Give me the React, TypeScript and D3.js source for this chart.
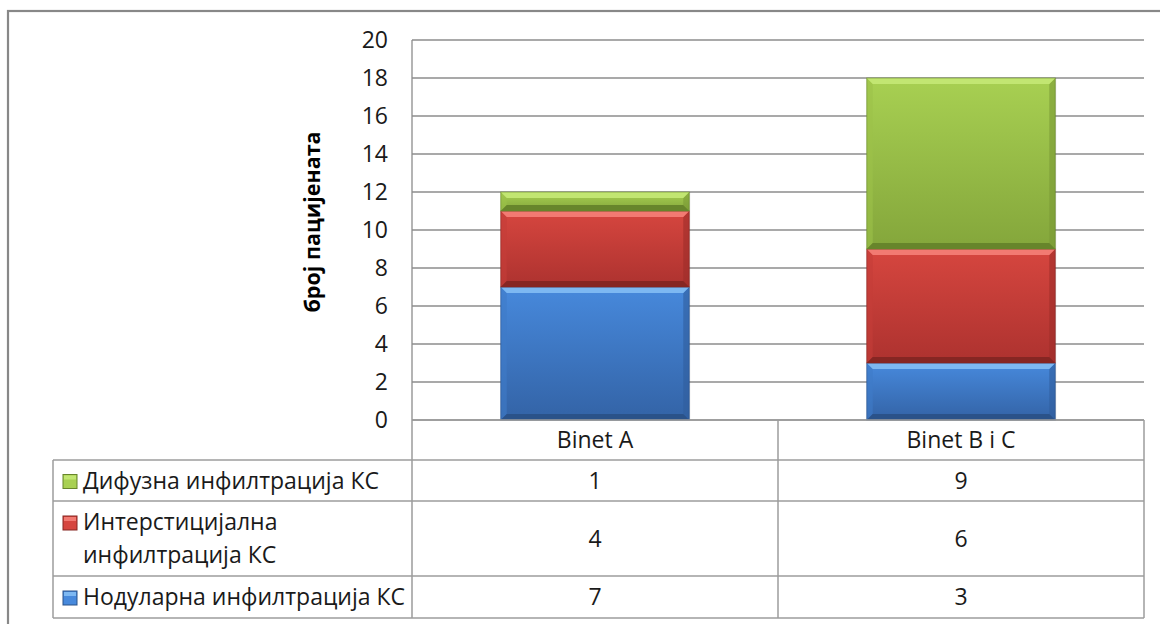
import React from "react";
import * as d3 from "d3";

const categories = ["Binet A", "Binet B i C"];
const seriesKeys = ["nodular", "interstitial", "diffuse"];
const nodularValues = [7, 3];
const interstitialValues = [4, 6];
const diffuseValues = [1, 9];
const labelNodular = ["Нодуларна инфилтрација КС"];
const labelInterstitial = ["Интерстицијална", "инфилтрација КС"];
const labelDiffuse = ["Дифузна инфилтрација КС"];
const yTicks = [0, 2, 4, 6, 8, 10, 12, 14, 16, 18, 20];
const yTitle = "број пацијената";

const W = 1160;
const H = 624;
const FONT = "'Open Sans', 'Noto Sans', sans-serif";
const FS = 23;

type Pal = { top: string; bodyA: string; bodyB: string; bottom: string; left: string; right: string };
const palettes: Record<string, Pal> = {
  nodular: { top: "#7db8f2", bodyA: "#4789dc", bodyB: "#3363a6", bottom: "#2a5289", left: "#3f7bc8", right: "#305d9c" },
  interstitial: { top: "#f27a72", bodyA: "#d6463f", bodyB: "#ad322f", bottom: "#862623", left: "#c53e39", right: "#9c2d2a" },
  diffuse: { top: "#c2e672", bodyA: "#a8d052", bodyB: "#84a63b", bottom: "#67852b", left: "#9cc24a", right: "#7a9a36" },
};

const rows = [
  { key: "diffuse", label: labelDiffuse, values: diffuseValues, y0: 460, y1: 501 },
  { key: "interstitial", label: labelInterstitial, values: interstitialValues, y0: 501, y1: 576 },
  { key: "nodular", label: labelNodular, values: nodularValues, y0: 576, y1: 618 },
];

function BevelBar({ x, y, w, h, pal, id }: { x: number; y: number; w: number; h: number; pal: Pal; id: string }) {
  const b = Math.min(6, h / 3);
  const pts = (arr: number[][]) => arr.map((p) => p.join(",")).join(" ");
  return (
    <g>
      <defs>
        <linearGradient id={id} x1="0" y1="0" x2="0" y2="1">
          <stop offset="0" stopColor={pal.bodyA} />
          <stop offset="1" stopColor={pal.bodyB} />
        </linearGradient>
      </defs>
      <rect x={x + 1} y={y} width={w} height={h} fill="#000" opacity={0.12} />
      <rect x={x} y={y} width={w} height={h} fill={`url(#${id})`} />
      <polygon points={pts([[x, y], [x + b, y + b], [x + b, y + h - b], [x, y + h]])} fill={pal.left} opacity={0.6} />
      <polygon points={pts([[x + w, y], [x + w - b, y + b], [x + w - b, y + h - b], [x + w, y + h]])} fill={pal.right} opacity={0.6} />
      <polygon points={pts([[x, y], [x + w, y], [x + w - b, y + b], [x + b, y + b]])} fill={pal.top} />
      <polygon points={pts([[x, y + h], [x + w, y + h], [x + w - b, y + h - b], [x + b, y + h - b]])} fill={pal.bottom} />
      <rect x={x} y={y} width={w} height={h} fill="none" stroke={pal.bottom} strokeOpacity={0.6} strokeWidth={1} />
    </g>
  );
}

export default function App() {
  const plotLeft = 412;
  const plotRight = 1144;
  const plotTop = 40;
  const plotBottom = 420;
  const tableLeft = 53;

  const x = d3.scaleBand<string>().domain(categories).range([plotLeft, plotRight]).padding(0);
  const y = d3.scaleLinear().domain([0, 20]).range([plotBottom, plotTop]);
  const barW = x.bandwidth() * 0.515;

  const table = categories.map((c, i) => ({
    cat: c,
    nodular: nodularValues[i],
    interstitial: interstitialValues[i],
    diffuse: diffuseValues[i],
  }));
  const stacked = d3.stack<any>().keys(seriesKeys)(table);

  const gridColor = "#8c8c8c";
  const tableColor = "#9d9d9d";

  return (
    <div style={{ position: "absolute", left: 0, top: 0 }}>
      <svg width={W} height={H} style={{ display: "block", background: "#fff" }}>
        <rect x={8} y={11} width={1170} height={640} fill="#fff" stroke="#888" strokeWidth={2.2} />

        {yTicks.map((t) => (
          <line key={"g" + t} x1={plotLeft} x2={plotRight} y1={y(t)} y2={y(t)} stroke={gridColor} strokeWidth={1.3} />
        ))}
        {yTicks.map((t) => (
          <text key={"t" + t} x={388} y={y(t)} dy="0.36em" textAnchor="end" fontFamily={FONT} fontSize={FS} fill="#1a1a1a">
            {t}
          </text>
        ))}
        <text
          transform={`translate(${312},${(plotTop + plotBottom) / 2 - 8}) rotate(-90)`}
          textAnchor="middle"
          dy="0.35em"
          fontFamily={FONT}
          fontWeight="bold"
          fontSize={21.5}
          fill="#000"
        >
          {yTitle}
        </text>

        {stacked.map((s) =>
          s.map((d, i) => {
            const cat = categories[i];
            const bx = (x(cat) as number) + (x.bandwidth() - barW) / 2;
            const y0 = y(d[1]);
            const y1 = y(d[0]);
            return (
              <BevelBar key={s.key + i} id={`grad-${s.key}-${i}`} x={bx} y={y0} w={barW} h={y1 - y0} pal={palettes[s.key]} />
            );
          })
        )}

        <line x1={plotLeft} x2={plotLeft} y1={plotTop} y2={618} stroke={gridColor} strokeWidth={1.3} />

        <line x1={plotLeft} x2={plotRight} y1={plotBottom} y2={plotBottom} stroke={tableColor} strokeWidth={1.5} />
        <line x1={plotRight} x2={plotRight} y1={plotBottom} y2={618} stroke={tableColor} strokeWidth={1.5} />
        <line x1={x(categories[1]) as number} x2={x(categories[1]) as number} y1={plotBottom} y2={618} stroke={tableColor} strokeWidth={1.5} />
        <line x1={tableLeft} x2={tableLeft} y1={460} y2={618} stroke={tableColor} strokeWidth={1.5} />
        {rows.map((r) => (
          <line key={"rl" + r.key} x1={tableLeft} x2={plotRight} y1={r.y0} y2={r.y0} stroke={tableColor} strokeWidth={1.5} />
        ))}
        <line x1={tableLeft} x2={plotRight} y1={618} y2={618} stroke={tableColor} strokeWidth={1.5} />

        {categories.map((c) => (
          <text key={"h" + c} x={(x(c) as number) + x.bandwidth() / 2} y={440} dy="0.36em" textAnchor="middle" fontFamily={FONT} fontSize={FS} fill="#1a1a1a">
            {c}
          </text>
        ))}

        {rows.map((r) => {
          const pal = palettes[r.key];
          const firstBase = r.label.length > 1 ? r.y0 + 29 : (r.y0 + r.y1) / 2 + 8;
          return (
            <g key={"row" + r.key}>
              <rect x={63} y={firstBase - 14} width={14} height={14} fill={pal.bodyA} stroke={pal.bottom} strokeWidth={1} />
              <rect x={64} y={firstBase - 13} width={12} height={4} fill={pal.top} />
              {r.label.map((ln, li) => (
                <text key={li} x={83} y={firstBase + li * 33} fontFamily={FONT} fontSize={FS} fill="#1a1a1a">
                  {ln}
                </text>
              ))}
              {r.values.map((v, i) => (
                <text
                  key={"v" + i}
                  x={(x(categories[i]) as number) + x.bandwidth() / 2}
                  y={(r.y0 + r.y1) / 2}
                  dy="0.36em"
                  textAnchor="middle"
                  fontFamily={FONT}
                  fontSize={FS}
                  fill="#1a1a1a"
                >
                  {v}
                </text>
              ))}
            </g>
          );
        })}
      </svg>
    </div>
  );
}
